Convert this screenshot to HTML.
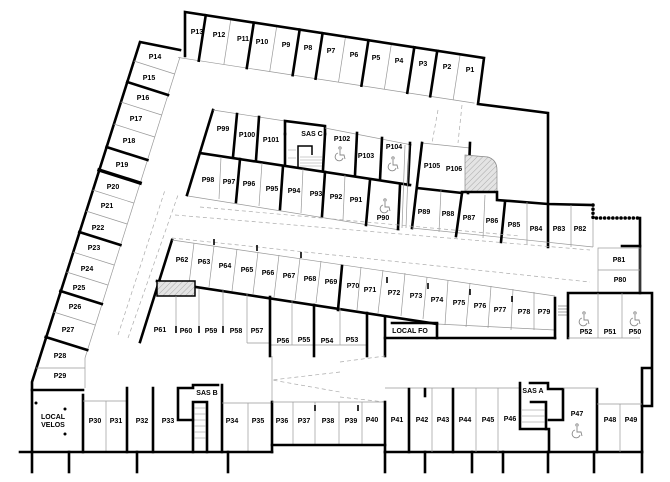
<!DOCTYPE html>
<html><head><meta charset="utf-8"><style>
html,body{margin:0;padding:0;background:#fff;}
svg{display:block}
text{font-family:"Liberation Sans",sans-serif;font-weight:bold;font-size:7px;fill:#000;text-anchor:middle;dominant-baseline:middle}
.w{stroke:#000;stroke-width:2.6;fill:none;stroke-linecap:square}
.t{stroke:#999;stroke-width:0.7;fill:none}
.d{stroke:#aaa;stroke-width:0.7;fill:none;stroke-dasharray:4 3}
.m{stroke:#000;stroke-width:1.6;fill:none}
</style></head><body>
<svg width="670" height="482" viewBox="0 0 670 482" xmlns="http://www.w3.org/2000/svg">
<defs>
<pattern id="h" width="4" height="4" patternUnits="userSpaceOnUse" patternTransform="rotate(45)">
<rect width="4" height="4" fill="#e4e4e4"/><line x1="0" y1="0" x2="0" y2="4" stroke="#999" stroke-width="0.8"/></pattern>
<g id="wc" fill="none" stroke="#888" stroke-width="0.9">
<circle cx="1" cy="-6" r="1.2"/>
<path d="M1,-4 L1,1 L5,1 L6,5"/>
<path d="M-1,-1 A4,4 0 1 0 4,4"/>
</g>
</defs>

<!-- top row -->
<g transform="translate(185,12) rotate(8.75)">
<line class="t" x1="0" y1="46" x2="300" y2="46"/>
<g class="t">
<line x1="46.4" y1="0" x2="46.4" y2="46"/><line x1="92.8" y1="0" x2="92.8" y2="46"/>
<line x1="162.4" y1="0" x2="162.4" y2="46"/><line x1="208.8" y1="0" x2="208.8" y2="46"/>
<line x1="278.4" y1="0" x2="278.4" y2="46"/>
</g>
<g class="w">
<line x1="21" y1="0" x2="21" y2="46"/><line x1="69.6" y1="0" x2="69.6" y2="46"/>
<line x1="116" y1="0" x2="116" y2="46"/><line x1="139.2" y1="0" x2="139.2" y2="46"/>
<line x1="185.6" y1="0" x2="185.6" y2="46"/><line x1="232" y1="0" x2="232" y2="46"/>
<line x1="255.2" y1="0" x2="255.2" y2="46"/>
</g>
</g>
<polyline class="w" points="185,56 185,12 484,58 478,104 548,113 548,247"/>

<!-- left wing -->
<polyline class="w" points="180,50 140,42 32,382 32,452"/>
<line class="t" x1="180" y1="57" x2="85" y2="358"/>
<line class="t" x1="85" y1="358" x2="85" y2="388"/>
<g class="t">
<line x1="133.9" y1="61" x2="174.6" y2="74"/>
<line x1="120.8" y1="102" x2="161.6" y2="115"/>
<line x1="113.8" y1="124" x2="154.7" y2="137"/>
<line x1="92.7" y1="190" x2="133.7" y2="203"/>
<line x1="86" y1="211" x2="127.1" y2="224"/>
<line x1="72.9" y1="252" x2="114.1" y2="265"/>
<line x1="66.5" y1="272" x2="107.8" y2="285"/>
<line x1="53.7" y1="312" x2="95.1" y2="325"/>
<line x1="36" y1="368" x2="85" y2="368"/>
</g>
<g class="w">
<line x1="127.2" y1="82" x2="168" y2="95"/>
<line x1="106.5" y1="147" x2="147.4" y2="160"/>
<line x1="99.1" y1="170" x2="140.1" y2="183" stroke-width="3.5"/>
<line x1="79.3" y1="232" x2="120.4" y2="245"/>
<line x1="60.4" y1="291" x2="101.8" y2="304"/>
<line x1="45.7" y1="337" x2="87.2" y2="350"/>
</g>
<line class="d" x1="118" y1="335" x2="165" y2="190"/>
<line class="d" x1="128" y1="338" x2="178" y2="195"/>

<!-- inner block upper -->
<polyline class="w" points="187,195 213,110"/>
<line class="t" x1="213" y1="110" x2="285" y2="121"/>
<polyline class="w" points="285,134 285,121 325,126 325,134"/>
<line class="t" x1="325" y1="128" x2="412" y2="145"/>
<line class="w" x1="200" y1="153" x2="410" y2="185"/>
<g class="w">
<line x1="237" y1="114" x2="233" y2="157"/>
<line x1="259" y1="117" x2="256" y2="160"/>
<line x1="285" y1="134" x2="285" y2="164"/>
<line x1="325" y1="134" x2="323" y2="170"/>
<line x1="357" y1="133" x2="355" y2="175"/>
<line x1="382" y1="138" x2="380" y2="180"/>
<line x1="410" y1="143" x2="408" y2="185"/>
</g>
<polyline points="298,167 298,146 312,146 312,155" fill="none" stroke="#000" stroke-width="1.5"/>
<g stroke="#999" stroke-width="0.5"><line x1="300" y1="160" x2="322" y2="160"/><line x1="300" y1="163" x2="322" y2="163"/><line x1="300" y1="157" x2="322" y2="157"/><line x1="300" y1="166" x2="322" y2="166"/><line x1="288" y1="150" x2="296" y2="150"/><line x1="288" y1="158" x2="296" y2="158"/></g>

<!-- inner block lower -->
<line class="t" x1="188" y1="196" x2="400" y2="230"/>
<g class="t"><line x1="221" y1="157" x2="219" y2="199"/><line x1="262" y1="163" x2="259" y2="206"/><line x1="303" y1="169" x2="301" y2="213"/><line x1="345" y1="175" x2="343" y2="220"/></g>
<g class="w">
<line x1="240" y1="159" x2="236" y2="202"/><line x1="283" y1="166" x2="280" y2="209"/>
<line x1="325" y1="172" x2="322" y2="216"/><line x1="370" y1="180" x2="366" y2="225"/>
<line x1="400" y1="185" x2="398" y2="229"/>
</g>
<line class="t" x1="405" y1="145" x2="402" y2="228"/>
<line class="t" x1="409" y1="145" x2="406" y2="228"/>

<!-- P105/106 and right row -->
<line class="t" x1="422" y1="143" x2="470" y2="148"/>
<line class="w" x1="422" y1="143" x2="412" y2="228"/>
<line class="w" x1="470" y1="143" x2="468" y2="193"/>
<line class="w" x1="417" y1="188" x2="462" y2="193"/>
<path d="M465,155 L488,157 Q497,160 497,170 L497,192 L465,192 Z" fill="url(#h)" stroke="#888" stroke-width="0.7"/>
<polyline class="w" points="462,192 497,192 497,200 548,204 593,205"/>
<line class="t" x1="412" y1="228" x2="593" y2="247"/>
<g class="t"><line x1="441" y1="190" x2="439" y2="232"/><line x1="485" y1="195" x2="483" y2="238"/><line x1="527" y1="202" x2="527" y2="244"/><line x1="571" y1="205" x2="571" y2="247"/></g>
<g class="d"><line x1="438" y1="110" x2="432" y2="143"/><line x1="462" y1="105" x2="458" y2="143"/></g>
<g class="w"><line x1="462" y1="193" x2="456" y2="236"/><line x1="505" y1="202" x2="501" y2="242"/></g>
<line class="t" x1="593" y1="205" x2="593" y2="247"/>
<polyline points="593,205 593,218 640,218" fill="none" stroke="#000" stroke-width="3.5" stroke-dasharray="0.1 4" stroke-linecap="round"/>
<line class="w" x1="640" y1="218" x2="640" y2="293"/>
<line class="w" x1="622" y1="246" x2="640" y2="246"/>
<rect class="t" x="598" y="248" width="42" height="45"/>
<line class="t" x1="598" y1="270" x2="640" y2="270"/>

<!-- main aisle dashed -->
<line class="d" x1="175" y1="215" x2="590" y2="250"/>
<line class="d" x1="200" y1="207" x2="520" y2="236"/>
<line class="d" x1="172" y1="238" x2="590" y2="282"/>

<!-- P62-P79 row -->
<line class="w" x1="172" y1="240" x2="140" y2="342"/>
<line class="t" x1="172" y1="240" x2="555" y2="296"/>
<line class="w" x1="157" y1="281" x2="437" y2="324"/>
<line class="t" x1="437" y1="324" x2="555" y2="330"/>
<g class="t">
<line x1="194" y1="243" x2="189" y2="284"/><line x1="214" y1="246" x2="209" y2="287"/><line x1="237" y1="249" x2="232" y2="291"/>
<line x1="258" y1="252" x2="253" y2="294"/><line x1="279" y1="255" x2="274" y2="297"/><line x1="300" y1="258" x2="295" y2="300"/>
<line x1="321" y1="261" x2="316" y2="303"/><line x1="361" y1="267" x2="357" y2="310"/><line x1="383" y1="270" x2="378" y2="313"/>
<line x1="405" y1="273" x2="401" y2="316"/><line x1="427" y1="277" x2="423" y2="319"/><line x1="448" y1="280" x2="445" y2="325"/>
<line x1="470" y1="283" x2="466" y2="327"/><line x1="491" y1="286" x2="488" y2="328"/><line x1="513" y1="289" x2="511" y2="330"/><line x1="534" y1="292" x2="534" y2="330"/>
</g>
<line class="w" x1="342" y1="266" x2="338" y2="310" stroke-width="3.2"/>
<g class="m"><line x1="214" y1="239" x2="214" y2="245"/><line x1="257" y1="245" x2="257" y2="251"/><line x1="301" y1="252" x2="301" y2="258"/><line x1="387" y1="277" x2="387" y2="283"/><line x1="428" y1="283" x2="428" y2="289"/><line x1="470" y1="289" x2="470" y2="295"/><line x1="512" y1="296" x2="512" y2="302"/></g>
<line class="w" x1="555" y1="298" x2="555" y2="338"/>
<polyline class="w" points="385,356 385,318"/>
<polyline class="w" points="385,338 555,338"/>
<polyline class="w" points="392,323 437,323 437,338"/>
<g stroke="#666" stroke-width="0.6"><line x1="558" y1="306" x2="568" y2="306"/><line x1="558" y1="309" x2="568" y2="309"/><line x1="558" y1="312" x2="568" y2="312"/><line x1="558" y1="315" x2="568" y2="315"/></g>

<!-- P61-P57 & P56-P53 -->
<rect x="157" y="281" width="38" height="15" fill="url(#h)" stroke="#000" stroke-width="1.5"/>
<g class="t"><line x1="176" y1="296" x2="176" y2="333"/><line x1="199" y1="289" x2="199" y2="333"/><line x1="223" y1="289" x2="223" y2="333"/><line x1="247" y1="293" x2="247" y2="343"/><line x1="247" y1="343" x2="270" y2="343"/><line x1="270" y1="345" x2="367" y2="345"/><line x1="292" y1="300" x2="292" y2="345"/><line x1="340" y1="308" x2="340" y2="345"/></g>
<g class="m" stroke-width="2.2"><line x1="176" y1="326" x2="176" y2="333"/><line x1="199" y1="326" x2="199" y2="333"/><line x1="223" y1="326" x2="223" y2="333"/></g>
<g class="w"><line x1="270" y1="297" x2="270" y2="356"/><line x1="314" y1="305" x2="314" y2="356"/><line x1="367" y1="313" x2="367" y2="356"/></g>

<!-- P52-P50 box -->
<polyline class="w" points="568,338 568,293 652,293 652,368 642,368 642,406 652,406 652,368"/>
<line class="w" x1="642" y1="406" x2="642" y2="452"/>
<line class="t" x1="568" y1="338" x2="640" y2="338"/>
<line class="t" x1="598" y1="293" x2="598" y2="338"/><line class="t" x1="622" y1="293" x2="622" y2="338"/>

<!-- center chevron dashes -->
<polyline class="d" points="340,372 272,380 340,392"/>
<line class="t" x1="272" y1="356" x2="272" y2="402"/>
<line class="d" x1="340" y1="362" x2="385" y2="356"/>
<line class="d" x1="340" y1="397" x2="385" y2="402"/>

<!-- bottom left -->
<polyline class="w" points="32,390 83,390"/>
<line class="w" x1="83" y1="395" x2="83" y2="452"/>
<line class="t" x1="83" y1="401" x2="127" y2="401"/>
<line class="t" x1="106" y1="401" x2="106" y2="452"/>
<g class="w"><line x1="127" y1="388" x2="127" y2="452"/><line x1="153" y1="388" x2="153" y2="452"/><line x1="222" y1="385" x2="222" y2="452"/></g>
<polyline class="w" points="193,452 193,402 207,402 207,452"/>
<polyline class="w" points="193,420 178,420 178,388 193,388 193,385 218,385"/>
<g stroke="#888" stroke-width="0.5"><line x1="194" y1="408" x2="206" y2="408"/><line x1="194" y1="414" x2="206" y2="414"/><line x1="194" y1="420" x2="206" y2="420"/><line x1="194" y1="426" x2="206" y2="426"/><line x1="194" y1="432" x2="206" y2="432"/><line x1="194" y1="438" x2="206" y2="438"/></g>
<line class="t" x1="222" y1="403" x2="272" y2="403"/><line class="t" x1="248" y1="403" x2="248" y2="452"/>
<line class="w" x1="272" y1="402" x2="272" y2="452"/>
<line class="t" x1="272" y1="402" x2="385" y2="402"/>
<g class="t"><line x1="293" y1="402" x2="293" y2="445"/><line x1="315" y1="402" x2="315" y2="445"/><line x1="339" y1="402" x2="339" y2="445"/><line x1="362" y1="402" x2="362" y2="445"/></g>
<line class="m" x1="315" y1="405" x2="315" y2="411"/><line class="m" x1="358" y1="405" x2="358" y2="411"/>
<line class="w" x1="385" y1="402" x2="385" y2="452"/>
<line class="w" x1="20" y1="452" x2="272" y2="452"/>
<line class="w" x1="272" y1="445" x2="385" y2="445"/>
<line class="w" x1="385" y1="452" x2="642" y2="452"/>
<g class="w"><line x1="32" y1="452" x2="32" y2="472"/><line x1="69" y1="452" x2="69" y2="472"/><line x1="137" y1="452" x2="137" y2="472"/><line x1="228" y1="452" x2="228" y2="472"/>
<line x1="385" y1="452" x2="385" y2="472"/><line x1="425" y1="452" x2="425" y2="472"/><line x1="472" y1="452" x2="472" y2="472"/><line x1="503" y1="452" x2="503" y2="472"/><line x1="548" y1="452" x2="548" y2="472"/><line x1="594" y1="452" x2="594" y2="472"/><line x1="642" y1="452" x2="642" y2="472"/></g>
<circle cx="36" cy="403" r="1.5"/><circle cx="65" cy="409" r="1.5"/><circle cx="65" cy="434" r="1.5"/>

<!-- bottom right -->
<line class="t" x1="385" y1="388" x2="520" y2="388"/>
<g class="t"><line x1="432" y1="388" x2="432" y2="452"/><line x1="476" y1="388" x2="476" y2="452"/><line x1="498" y1="388" x2="498" y2="452"/></g>
<g class="w"><line x1="409" y1="389" x2="409" y2="452"/><line x1="453" y1="389" x2="453" y2="452"/><line x1="425" y1="389" x2="425" y2="396"/><line x1="597" y1="389" x2="597" y2="452"/></g>
<polyline class="w" points="520,383 520,429 549,429 549,452"/>
<polyline class="w" points="530,383 548,383 548,389 563,389 563,420 549,420"/>
<polyline class="w" points="531,402 546,402 546,429"/>
<g stroke="#888" stroke-width="0.5"><line x1="522" y1="410" x2="545" y2="410"/><line x1="522" y1="416" x2="545" y2="416"/><line x1="522" y1="422" x2="545" y2="422"/></g>
<line class="t" x1="563" y1="388" x2="597" y2="388"/>
<line class="t" x1="597" y1="404" x2="642" y2="404"/><line class="t" x1="620" y1="404" x2="620" y2="452"/>

<!-- wheelchair icons -->
<use href="#wc" x="339" y="154"/>
<use href="#wc" x="392" y="164"/>
<use href="#wc" x="384" y="206"/>
<use href="#wc" x="583" y="319"/>
<use href="#wc" x="634" y="319"/>
<use href="#wc" x="576" y="431"/>

<!-- labels -->
<text x="197" y="32">P13</text><text x="219" y="35">P12</text><text x="243" y="39">P11</text><text x="262" y="42">P10</text>
<text x="286" y="45">P9</text><text x="308" y="48">P8</text><text x="331" y="51">P7</text><text x="354" y="55">P6</text>
<text x="376" y="58">P5</text><text x="399" y="61">P4</text><text x="423" y="64">P3</text><text x="447" y="67">P2</text><text x="470" y="70">P1</text>
<text x="155" y="57">P14</text><text x="149" y="78">P15</text><text x="143" y="98">P16</text><text x="136" y="119">P17</text>
<text x="129" y="141">P18</text><text x="122" y="165">P19</text><text x="113" y="187">P20</text><text x="107" y="206">P21</text>
<text x="98" y="228">P22</text><text x="94" y="248">P23</text><text x="87" y="269">P24</text><text x="79" y="288">P25</text>
<text x="75" y="307">P26</text><text x="68" y="330">P27</text><text x="60" y="356">P28</text><text x="60" y="376">P29</text>
<text x="53" y="417">LOCAL</text><text x="53" y="425">VELOS</text>
<text x="95" y="421">P30</text><text x="116" y="421">P31</text><text x="142" y="421">P32</text><text x="168" y="421">P33</text>
<text x="207" y="393">SAS B</text>
<text x="232" y="421">P34</text><text x="258" y="421">P35</text><text x="282" y="421">P36</text><text x="304" y="421">P37</text>
<text x="328" y="421">P38</text><text x="351" y="421">P39</text><text x="372" y="420">P40</text><text x="397" y="420">P41</text>
<text x="422" y="420">P42</text><text x="443" y="420">P43</text><text x="465" y="420">P44</text><text x="488" y="420">P45</text>
<text x="510" y="419">P46</text><text x="533" y="391">SAS A</text><text x="577" y="414">P47</text><text x="610" y="420">P48</text><text x="631" y="420">P49</text>
<text x="160" y="330">P61</text><text x="186" y="331">P60</text><text x="211" y="331">P59</text><text x="236" y="331">P58</text><text x="257" y="331">P57</text>
<text x="283" y="341">P56</text><text x="304" y="340">P55</text><text x="327" y="341">P54</text><text x="352" y="340">P53</text>
<text x="410" y="331">LOCAL FO</text>
<text x="182" y="260">P62</text><text x="204" y="262">P63</text><text x="225" y="266">P64</text><text x="247" y="270">P65</text>
<text x="268" y="273">P66</text><text x="289" y="276">P67</text><text x="310" y="279">P68</text><text x="331" y="282">P69</text>
<text x="353" y="286">P70</text><text x="370" y="290">P71</text><text x="394" y="293">P72</text><text x="416" y="296">P73</text>
<text x="437" y="300">P74</text><text x="459" y="303">P75</text><text x="480" y="306">P76</text><text x="500" y="310">P77</text>
<text x="524" y="312">P78</text><text x="544" y="312">P79</text>
<text x="586" y="332">P52</text><text x="610" y="332">P51</text><text x="635" y="332">P50</text>
<text x="619" y="260">P81</text><text x="620" y="280">P80</text>
<text x="223" y="129">P99</text><text x="247" y="135">P100</text><text x="271" y="140">P101</text><text x="312" y="134">SAS C</text>
<text x="342" y="139">P102</text><text x="366" y="156">P103</text><text x="394" y="147">P104</text>
<text x="432" y="166">P105</text><text x="454" y="169">P106</text>
<text x="208" y="180">P98</text><text x="229" y="182">P97</text><text x="249" y="184">P96</text><text x="272" y="189">P95</text>
<text x="294" y="191">P94</text><text x="316" y="194">P93</text><text x="336" y="197">P92</text><text x="356" y="200">P91</text>
<text x="383" y="218">P90</text><text x="424" y="212">P89</text><text x="448" y="214">P88</text><text x="469" y="218">P87</text>
<text x="492" y="221">P86</text><text x="514" y="225">P85</text><text x="536" y="229">P84</text><text x="559" y="229">P83</text><text x="580" y="229">P82</text>
</svg>
</body></html>
